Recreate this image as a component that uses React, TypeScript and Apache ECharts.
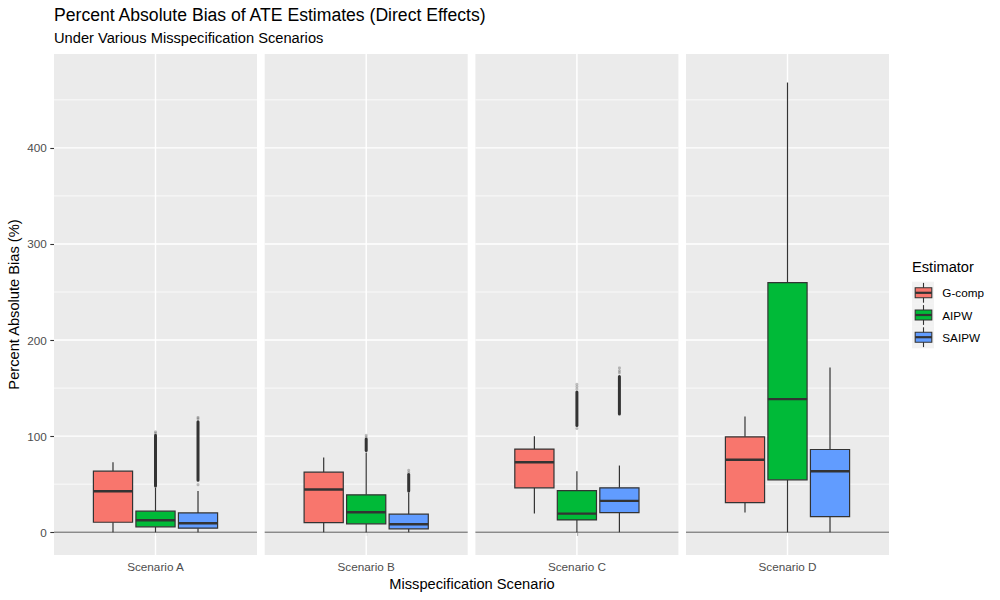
import React, { useEffect, useRef } from "react";
import * as echarts from "echarts";

const scenarios = ["Scenario A", "Scenario B", "Scenario C", "Scenario D"];
const estimators = ["G-comp", "AIPW", "SAIPW"];
const estimatorColors = ["#F8766D", "#00BA38", "#619CFF"];

// [lower whisker, Q1, median, Q3, upper whisker] per scenario
const gcompStats = [
  [0, 10.4, 42.7, 63.5, 72.9],
  [0, 10.0, 44.4, 62.5, 77.8],
  [19.4, 46.2, 72.9, 86.5, 100.0],
  [20.5, 30.9, 75.4, 99.3, 120.5],
];
const aipwStats = [
  [0, 5.6, 12.5, 21.9, 46.5],
  [0, 8.7, 20.8, 38.9, 83.0],
  [0, 12.8, 19.4, 43.4, 63.5],
  [0, 54.5, 138.5, 259.7, 468.0],
];
const saipwStats = [
  [0, 4.2, 9.4, 20.1, 43.0],
  [0, 3.5, 8.3, 18.8, 41.3],
  [0, 20.5, 32.6, 46.2, 69.4],
  [0, 16.3, 63.5, 86.1, 171.5],
];

// dense runs of overlapping outliers [low, high] per scenario
const gcompOutlierRuns: (number[] | null)[] = [null, null, null, null];
const aipwOutlierRuns: (number[] | null)[] = [[48, 101], [85, 97], [111, 146], null];
const saipwOutlierRuns: (number[] | null)[] = [[54, 115], [43, 60], [123, 162], null];

// isolated outliers per scenario
const gcompOutliers: number[][] = [[], [], [], []];
const aipwOutliers: number[][] = [[103, 104.5], [99, 101], [108, 149, 151.5, 154], []];
const saipwOutliers: number[][] = [[49.5, 118, 119.5], [62, 64.5], [166, 168, 171], []];

const yMajorTicks = [0, 100, 200, 300, 400];
const yMinorTicks = [50, 150, 250, 350, 450];
const yMin = -23.7;
const yMax = 497.7;

const titleText = "Percent Absolute Bias of ATE Estimates (Direct Effects)";
const subtitleText = "Under Various Misspecification Scenarios";
const xTitle = "Misspecification Scenario";
const yTitle = "Percent Absolute Bias (%)";
const legendTitle = "Estimator";

const statsByEstimator = [gcompStats, aipwStats, saipwStats];
const runsByEstimator = [gcompOutlierRuns, aipwOutlierRuns, saipwOutlierRuns];
const outliersByEstimator = [gcompOutliers, aipwOutliers, saipwOutliers];

const FONT = "Liberation Sans, Arial, Helvetica, sans-serif";
const gridLefts = [54, 264.7, 475.4, 686];
const GRID_W = 203;
const GRID_TOP = 54;
const GRID_H = 501;
const LINE = "#333333";

function boxRenderer(k: number, g: number) {
  return (params: any, api: any) => {
    const band = api.size([1, 0])[0];
    const cx = api.coord([0, 0])[0] + (k - 1) * band * 0.2094;
    const hw = band * 0.0965;
    const Y = (v: number) => api.coord([0, v])[1];
    const lo = api.value(1);
    const q1 = api.value(2);
    const med = api.value(3);
    const q3 = api.value(4);
    const hi = api.value(5);
    const children: any[] = [];
    const run = runsByEstimator[k][g];
    if (run) {
      children.push({
        type: "rect",
        shape: { x: cx - 1.5, y: Y(run[1]) - 1.5, width: 3, height: Y(run[0]) - Y(run[1]) + 3, r: 1.5 },
        style: { fill: "#333333" },
      });
    }
    for (const v of outliersByEstimator[k][g]) {
      children.push({ type: "circle", shape: { cx, cy: Y(v), r: 1.5 }, style: { fill: "rgba(51,51,51,0.3)" } });
    }
    children.push({ type: "line", shape: { x1: cx, y1: Y(q3), x2: cx, y2: Y(hi) }, style: { stroke: LINE, lineWidth: 1.2 } });
    children.push({ type: "line", shape: { x1: cx, y1: Y(q1), x2: cx, y2: Y(lo) }, style: { stroke: LINE, lineWidth: 1.2 } });
    children.push({
      type: "rect",
      shape: { x: cx - hw, y: Y(q3), width: hw * 2, height: Y(q1) - Y(q3) },
      style: { fill: estimatorColors[k], stroke: LINE, lineWidth: 1.2 },
    });
    children.push({
      type: "line",
      shape: { x1: cx - hw, y1: Y(med), x2: cx + hw, y2: Y(med) },
      style: { stroke: LINE, lineWidth: 2.4 },
    });
    return { type: "group", children };
  };
}

function buildOption() {
  const grid: any[] = [];
  const xAxis: any[] = [];
  const yAxis: any[] = [];
  const series: any[] = [];

  scenarios.forEach((sc, g) => {
    grid.push({
      left: gridLefts[g],
      top: GRID_TOP,
      width: GRID_W,
      height: GRID_H,
      show: true,
      backgroundColor: "#EBEBEB",
      borderWidth: 0,
    });
    xAxis.push({
      type: "category",
      gridIndex: g,
      data: [sc],
      boundaryGap: true,
      axisLine: { show: false },
      axisTick: { show: true, alignWithLabel: true, length: 3.7, lineStyle: { color: LINE, width: 1.1 } },
      axisLabel: { color: "#4D4D4D", fontSize: 11.73, fontFamily: FONT, margin: 5.5 },
      splitLine: { show: false },
    });
    const ya: any = {
      type: "value",
      gridIndex: g,
      min: yMin,
      max: yMax,
      splitLine: { show: false },
      axisLine: { show: false },
    };
    if (g === 0) {
      ya.axisTick = { show: true, length: 3.7, lineStyle: { color: LINE, width: 1.1 }, customValues: yMajorTicks };
      ya.axisLabel = { color: "#4D4D4D", fontSize: 11.73, fontFamily: FONT, margin: 7.3, customValues: yMajorTicks };
      ya.name = yTitle;
      ya.nameLocation = "middle";
      ya.nameGap = 33;
      ya.nameTextStyle = { color: "#000", fontSize: 14.67, fontFamily: FONT };
    } else {
      ya.axisTick = { show: false };
      ya.axisLabel = { show: false };
    }
    yAxis.push(ya);

    // horizontal panel grid lines
    series.push({
      type: "custom",
      xAxisIndex: g,
      yAxisIndex: g,
      z: 1,
      silent: true,
      data: [...yMinorTicks.map((v) => [0, v, 0]), ...yMajorTicks.map((v) => [0, v, 1])],
      encode: { x: 0, y: 1 },
      renderItem: (params: any, api: any) => {
        const cs = params.coordSys;
        const y = api.coord([0, api.value(1)])[1];
        const major = api.value(2) === 1;
        return {
          type: "line",
          shape: { x1: cs.x, y1: y, x2: cs.x + cs.width, y2: y },
          style: { stroke: "#FFFFFF", lineWidth: major ? 1.45 : 0.75 },
        };
      },
    });
    // vertical grid line at category + zero reference line
    series.push({
      type: "custom",
      xAxisIndex: g,
      yAxisIndex: g,
      z: 2,
      silent: true,
      data: [[0, 0]],
      encode: { x: 0, y: 1 },
      renderItem: (params: any, api: any) => {
        const cs = params.coordSys;
        const p = api.coord([0, api.value(1)]);
        return {
          type: "group",
          children: [
            { type: "line", shape: { x1: p[0], y1: cs.y, x2: p[0], y2: cs.y + cs.height }, style: { stroke: "#FFFFFF", lineWidth: 1.45 } },
            { type: "line", shape: { x1: cs.x, y1: p[1], x2: cs.x + cs.width, y2: p[1] }, style: { stroke: "#8A8A8A", lineWidth: 1.3 } },
          ],
        };
      },
    });
    estimators.forEach((est, k) => {
      series.push({
        type: "custom",
        name: est,
        xAxisIndex: g,
        yAxisIndex: g,
        z: 3,
        data: [[0, ...statsByEstimator[k][g]]],
        encode: { x: 0, y: [1, 2, 3, 4, 5] },
        renderItem: boxRenderer(k, g),
      });
    });
  });

  // legend (ggplot-style keys)
  const legendEls: any[] = [
    {
      type: "text",
      left: 912,
      top: 259,
      style: { text: legendTitle, fontSize: 14.67, fontFamily: FONT, fill: "#000" },
    },
  ];
  const KEY_TOP = 281.7;
  const KEY_H = 22.2;
  estimators.forEach((est, k) => {
    const top = KEY_TOP + k * KEY_H;
    const cyk = top + KEY_H / 2;
    legendEls.push({ type: "rect", shape: { x: 912, y: top, width: 22, height: KEY_H }, style: { fill: "#F2F2F2" } });
    legendEls.push({ type: "line", shape: { x1: 923.5, y1: top + 1.2, x2: 923.5, y2: top + KEY_H - 1.2 }, style: { stroke: LINE, lineWidth: 1.1 } });
    legendEls.push({
      type: "rect",
      shape: { x: 915.2, y: cyk - 5, width: 16.6, height: 10 },
      style: { fill: estimatorColors[k], stroke: LINE, lineWidth: 1.1 },
    });
    legendEls.push({ type: "line", shape: { x1: 915.2, y1: cyk, x2: 931.8, y2: cyk }, style: { stroke: LINE, lineWidth: 2.2 } });
    legendEls.push({
      type: "text",
      x: 942.3,
      y: cyk,
      style: { text: est, fontSize: 11.73, fontFamily: FONT, fill: "#000", verticalAlign: "middle", align: "left" },
    });
  });

  return {
    animation: false,
    backgroundColor: "#FFFFFF",
    title: [
      {
        text: titleText,
        left: 54,
        top: 6,
        padding: 0,
        textStyle: { fontSize: 17.6, fontWeight: "normal", color: "#000", fontFamily: FONT },
      },
      {
        text: subtitleText,
        left: 54,
        top: 30,
        padding: 0,
        textStyle: { fontSize: 14.67, fontWeight: "normal", color: "#000", fontFamily: FONT },
      },
      {
        text: xTitle,
        left: 472,
        top: 576,
        padding: 0,
        textAlign: "center",
        textStyle: { fontSize: 14.67, fontWeight: "normal", color: "#000", fontFamily: FONT },
      },
    ],
    grid,
    xAxis,
    yAxis,
    series,
    graphic: legendEls,
  };
}

export default function App() {
  const ref = useRef<HTMLDivElement>(null);
  useEffect(() => {
    document.body.style.margin = "0";
    if (!ref.current) return;
    const chart = echarts.init(ref.current, undefined, { renderer: "svg" });
    chart.setOption(buildOption() as any);
    return () => chart.dispose();
  }, []);
  return <div ref={ref} style={{ width: 1000, height: 600, position: "absolute", left: 0, top: 0 }} />;
}
